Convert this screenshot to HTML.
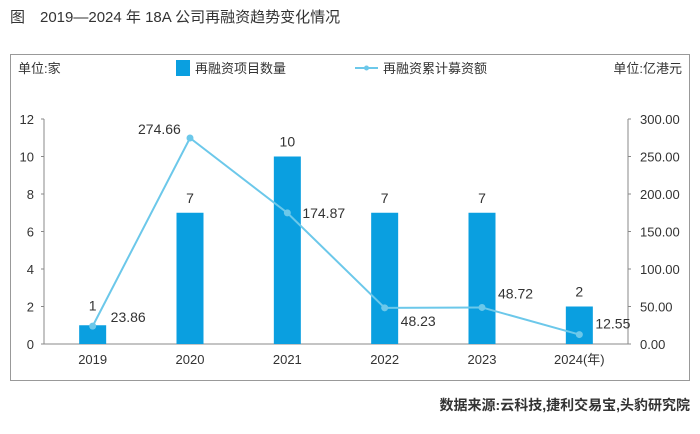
<!DOCTYPE html>
<html><head><meta charset="utf-8"><style>
body{margin:0;background:#fff;width:700px;height:429px;overflow:hidden;font-family:"Liberation Sans","Noto Sans CJK SC",sans-serif;}
svg text{font-family:"Liberation Sans","Noto Sans CJK SC",sans-serif;fill:#333;}
</style></head><body>
<svg width="700" height="429">
<text x="10" y="22" font-size="15" fill="#222">图　2019—2024 年 18A 公司再融资趋势变化情况</text>
<rect x="10.5" y="54.5" width="679" height="326" fill="none" stroke="#999"/>
<text x="18" y="73" font-size="13">单位:家</text>
<text x="682" y="73" font-size="13" text-anchor="end">单位:亿港元</text>
<g>
<rect x="176" y="60" width="14" height="16" fill="#0a9fe0"/>
<text x="195" y="73" font-size="13">再融资项目数量</text>
<line x1="355" y1="68" x2="378" y2="68" stroke="#6cc8ea" stroke-width="2"/>
<circle cx="366.5" cy="68" r="2.5" fill="#6cc8ea"/>
<text x="383" y="73" font-size="13">再融资累计募资额</text>
</g>
<g id="plot"></g>
<text x="690" y="410" font-size="14" font-weight="bold" text-anchor="end" fill="#222">数据来源:云科技,捷利交易宝,头豹研究院</text>
</svg>
<script>
const categories=["2019","2020","2021","2022","2023","2024"];
const counts=[1,7,10,7,7,2];
const amounts=[23.86,274.66,174.87,48.23,48.72,12.55];
const amountLabels=["23.86","274.66","174.87","48.23","48.72","12.55"];
const leftTicks=[0,2,4,6,8,10,12];
const rightTicks=[0,50,100,150,200,250,300];
const X0=44,X1=628,Y0=344,Y1=119;
const NS="http://www.w3.org/2000/svg";
const g=document.getElementById('plot');
function mk(t,a,txt){const e=document.createElementNS(NS,t);for(const k in a)e.setAttribute(k,a[k]);if(txt!=null)e.textContent=txt;g.appendChild(e);return e;}
const step=(X1-X0)/categories.length;
const xc=i=>X0+step*(i+0.5);
const yl=v=>Y0-(v/12)*(Y0-Y1);
const yr=v=>Y0-(v/300)*(Y0-Y1);
let e=mk('line',{x1:X0,y1:Y1,x2:X0,y2:Y0,stroke:'#888'});


e=mk('line',{x1:X1,y1:Y1,x2:X1,y2:Y0,stroke:'#888'});


e=mk('line',{x1:X0,y1:Y0,x2:X1,y2:Y0,stroke:'#888'});


leftTicks.forEach(v=>{mk('line',{x1:X0-3,y1:yl(v),x2:X0,y2:yl(v),stroke:'#888'});
e=mk('text',{x:34,y:yl(v)+5,'font-size':13,'text-anchor':'end'},String(v));

});
rightTicks.forEach(v=>{mk('line',{x1:X1,y1:yr(v),x2:X1+3,y2:yr(v),stroke:'#888'});
e=mk('text',{x:640,y:yr(v)+5,'font-size':13},v.toFixed(2));

});
categories.forEach((c,i)=>{
e=mk('rect',{x:xc(i)-13.5,y:yl(counts[i]),width:27,height:Y0-yl(counts[i]),fill:'#0a9fe0'});


e=mk('text',{x:xc(i),y:yl(counts[i])-(i==0?15:10),'font-size':14,'text-anchor':'middle'},String(counts[i]));


e=mk('text',{x:xc(i),y:364,'font-size':13,'text-anchor':'middle'},c+(i==categories.length-1?'(年)':''));


});
e=mk('polyline',{points:amounts.map((v,i)=>xc(i)+','+yr(v)).join(' '),fill:'none',stroke:'#6cc8ea','stroke-width':2});


amounts.forEach((v,i)=>{
e=mk('circle',{cx:xc(i),cy:yr(v),r:3.5,fill:'#6cc8ea'});


let lx=xc(i)+18,ly=yr(v)-12;
if(i==0){ly=yr(v)-4;}
if(i==1){lx=xc(i)-52;ly=yr(v)-4;}
if(i==2){lx=xc(i)+15;ly=yr(v)+5;}
if(i==3){lx=xc(i)+16;ly=yr(v)+18;}
if(i==4){lx=xc(i)+16;ly=yr(v)-9;}
if(i==5){lx=xc(i)+16;ly=yr(v)-6;}
e=mk('text',{x:lx,y:ly,'font-size':14},amountLabels[i]);


});
</script>
</body></html>
